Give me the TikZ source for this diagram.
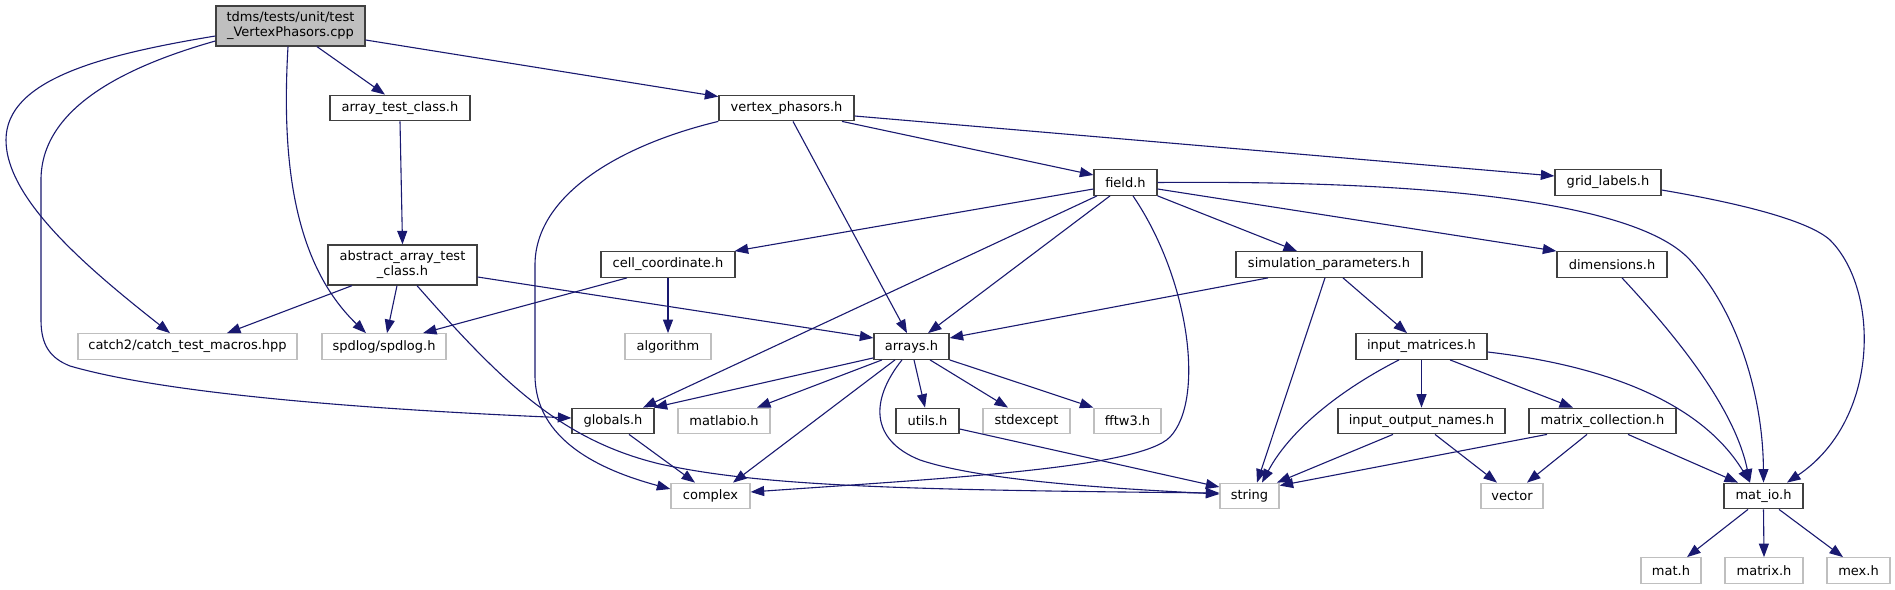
\documentclass[tikz,border=0pt]{standalone}
\usepackage{fontspec}
\setmainfont{DejaVu Sans}
\usetikzlibrary{arrows.meta}
\definecolor{edgec}{HTML}{191970}
\definecolor{extc}{HTML}{BFBFBF}
\definecolor{intc}{HTML}{404040}
\definecolor{rootfill}{HTML}{BFBFBF}
\begin{document}
\begin{tikzpicture}[x=1pt,y=-1pt,
  base/.style={rectangle, inner sep=0pt, minimum height=25.5pt, fill=white,
    font=\fontsize{13pt}{15pt}\selectfont, text=black, line width=1.3pt},
  intn/.style={base, draw=intc},
  extn/.style={base, draw=extc},
  edge/.style={draw=edgec, line width=1.1pt, -{Triangle[length=13.5pt,width=10pt,fill=edgec]}}
]
\fill[white] (0,0) rectangle (1895,589);
\useasboundingbox (0,0) rectangle (1895,589);

% nodes
\node[intn, fill=rootfill, minimum width=149pt, minimum height=40pt, align=center] (root) at (290.5,26) {tdms/tests/unit/test\\\_VertexPhasors.cpp};
\node[intn, minimum width=140pt] (atc) at (400,108) {array\_test\_class.h};
\node[intn, minimum width=149pt, minimum height=40pt, align=center] (aatc) at (402.5,265) {abstract\_array\_test\\\_class.h};
\node[intn, minimum width=135pt] (vp) at (786.5,108) {vertex\_phasors.h};
\node[intn, minimum width=134pt] (cc) at (668,264.5) {cell\_coordinate.h};
\node[intn, minimum width=63pt] (field) at (1125.5,182.5) {field.h};
\node[intn, minimum width=186pt] (sim) at (1329,264.5) {simulation\_parameters.h};
\node[intn, minimum width=106pt] (grid) at (1608,182.5) {grid\_labels.h};
\node[intn, minimum width=110pt] (dim) at (1612,264.5) {dimensions.h};
\node[extn, minimum width=219pt] (catch) at (187.5,346.5) {catch2/catch\_test\_macros.hpp};
\node[extn, minimum width=124pt] (spd) at (384,346.5) {spdlog/spdlog.h};
\node[extn, minimum width=86pt] (alg) at (668,346.5) {algorithm};
\node[intn, minimum width=75pt] (arr) at (911.5,346.5) {arrays.h};
\node[intn, minimum width=131pt] (im) at (1421.5,346.5) {input\_matrices.h};
\node[intn, minimum width=82pt] (glob) at (613,421) {globals.h};
\node[extn, minimum width=92pt] (mlab) at (724,421) {matlabio.h};
\node[intn, minimum width=63pt] (utils) at (927.5,421) {utils.h};
\node[extn, minimum width=87pt] (stdx) at (1026.5,421) {stdexcept};
\node[extn, minimum width=67pt] (fftw) at (1127.5,421) {fftw3.h};
\node[intn, minimum width=167pt] (ion) at (1421.5,421) {input\_output\_names.h};
\node[intn, minimum width=147pt] (mc) at (1602.5,421) {matrix\_collection.h};
\node[extn, minimum width=79pt] (cplx) at (710.5,496) {complex};
\node[extn, minimum width=59pt] (str) at (1249.5,496) {string};
\node[extn, minimum width=62pt] (vec) at (1512,496) {vector};
\node[intn, minimum width=79pt] (matio) at (1763.5,496) {mat\_io.h};
\node[extn, minimum width=60pt] (math) at (1671,570.5) {mat.h};
\node[extn, minimum width=78pt] (matrixh) at (1764,570.5) {matrix.h};
\node[extn, minimum width=63pt] (mex) at (1858.5,570.5) {mex.h};

% root
\draw[edge] ([yshift=-10pt]root.west) .. controls (100,55) and (6,80) .. (6,140) .. controls (6,200) and (90,270) .. ([xshift=-17.5pt]catch.north);
\draw[edge] ([yshift=-15pt]root.west) .. controls (120,68) and (41,110) .. (41,180) -- (41,320) .. controls (41,345) and (50,358) .. (70,366) .. controls (170,395) and (380,410) .. ([yshift=3pt]glob.west);
\draw[edge] ([xshift=-2.5pt]root.south) .. controls (282,150) and (290,260) .. ([xshift=-18pt]spd.north);
\draw[edge] ([xshift=26.5pt]root.south) -- ([xshift=-15pt]atc.north);
\draw[edge] ([yshift=-14pt]root.east) -- ([yshift=-2pt]vp.north west);
% array_test_class / abstract
\draw[edge] (atc.south) -- (aatc.north);
\draw[edge] ([xshift=-50.5pt]aatc.south) -- ([xshift=39.5pt]catch.north);
\draw[edge] ([xshift=-5.5pt]aatc.south) -- ([xshift=3pt]spd.north);
\draw[edge] ([xshift=14.5pt]aatc.south) .. controls (500,380) and (560,440) .. (660,464) .. controls (760,486) and (900,490) .. ([yshift=3pt]str.west);
\draw[edge] ([yshift=-12pt]aatc.east) -- ([yshift=8.5pt]arr.west);
% vertex_phasors
\draw[edge] (vp.south west) .. controls (620,145) and (535,195) .. (535,265) -- (535,375) .. controls (535,440) and (600,470) .. ([yshift=7pt]cplx.west);
\draw[edge] ([xshift=6.5pt]vp.south) -- ([xshift=-4.5pt]arr.north);
\draw[edge] ([xshift=55.5pt]vp.south) -- ([yshift=7.5pt]field.west);
\draw[edge] ([yshift=-8pt]vp.east) -- ([yshift=6.5pt]grid.west);
% field
\draw[edge] ([yshift=-6.5pt]field.west) -- ([xshift=-1pt]cc.north east);
\draw[edge] ([xshift=-28.5pt]field.south) -- ([xshift=30pt]glob.north);
\draw[edge] ([xshift=-15.5pt]field.south) -- ([xshift=16.5pt]arr.north);
\draw[edge] ([xshift=7.5pt]field.south) .. controls (1190,280) and (1205,400) .. (1170,437) .. controls (1140,468) and (950,478) .. ([yshift=4pt]cplx.east);
\draw[edge] (field.south east) -- ([xshift=-32pt]sim.north);
\draw[edge] ([yshift=-6.5pt]field.east) -- (dim.north west);
\draw[edge] (field.east) .. controls (1450,180) and (1640,205) .. (1690,260) .. controls (1740,315) and (1763,400) .. (matio.north);
% grid_labels, dimensions
\draw[edge] ([yshift=-7.5pt]grid.east) .. controls (1750,205) and (1810,222) .. (1830,240) .. controls (1880,290) and (1880,420) .. ([xshift=23.5pt]matio.north);
\draw[edge] ([xshift=10pt]dim.south) .. controls (1680,340) and (1735,410) .. ([xshift=-13.5pt]matio.north);
% cell_coordinate
\draw[edge] ([xshift=-41pt]cc.south) -- ([xshift=39pt]spd.north);
\draw[edge] (cc.south) -- (alg.north);
% simulation_parameters
\draw[edge] ([xshift=-61pt]sim.south) -- ([yshift=8.5pt]arr.east);
\draw[edge] ([xshift=-4pt]sim.south) -- ([xshift=7.5pt]str.north);
\draw[edge] ([xshift=14pt]sim.south) -- ([xshift=-14.5pt]im.north);
% arrays
\draw[edge] ([yshift=2pt]arr.south west) -- ([xshift=-1pt]glob.north east);
\draw[edge] ([xshift=-29.5pt]arr.south) -- ([xshift=33pt]mlab.north);
\draw[edge] ([xshift=-16.5pt]arr.south) -- ([xshift=22.5pt]cplx.north);
\draw[edge] ([xshift=-9.5pt]arr.south) .. controls (870,400) and (870,440) .. (920,460) .. controls (980,480) and (1100,488) .. ([yshift=2pt]str.west);
\draw[edge] ([xshift=2.5pt]arr.south) -- ([xshift=-2.5pt]utils.north);
\draw[edge] ([xshift=18.5pt]arr.south) -- ([xshift=-18.5pt]stdx.north);
\draw[edge] (arr.south east) -- (fftw.north west);
% utils, globals
\draw[edge] ([yshift=-8pt]utils.east) -- ([yshift=9pt]str.west);
\draw[edge] ([xshift=16pt]glob.south) -- ([xshift=-15.5pt]cplx.north);
% input_matrices
\draw[edge] ([xshift=-22.5pt]im.south) .. controls (1340,390) and (1290,430) .. ([xshift=12.5pt]str.north);
\draw[edge] (im.south) -- (ion.north);
\draw[edge] ([xshift=28.5pt]im.south) -- ([xshift=-29.5pt]mc.north);
\draw[edge] ([yshift=-5.5pt]im.east) .. controls (1600,365) and (1700,400) .. ([xshift=-13.5pt]matio.north);
% input_output_names
\draw[edge] ([xshift=-28.5pt]ion.south) -- ([xshift=27.5pt]str.north);
\draw[edge] ([xshift=13.5pt]ion.south) -- ([xshift=-15pt]vec.north);
% matrix_collection
\draw[edge] ([xshift=-55.5pt]mc.south) -- ([yshift=-3pt]str.north east);
\draw[edge] ([xshift=-15.5pt]mc.south) -- ([xshift=15pt]vec.north);
\draw[edge] ([xshift=25.5pt]mc.south) -- ([xshift=-25.5pt]matio.north);
% mat_io
\draw[edge] ([xshift=-15.5pt]matio.south) -- ([xshift=16pt]math.north);
\draw[edge] (matio.south) -- (matrixh.north);
\draw[edge] ([xshift=15.5pt]matio.south) -- ([xshift=-15.5pt]mex.north);
\end{tikzpicture}
\end{document}
